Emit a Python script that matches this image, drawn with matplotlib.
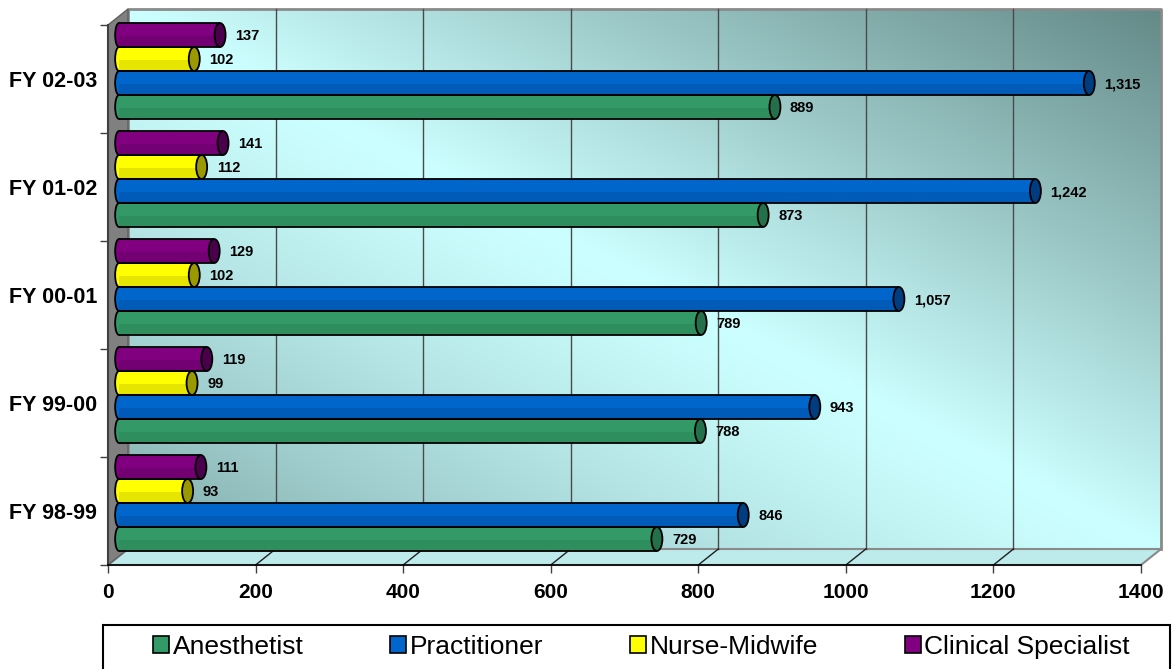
import numpy as np
import matplotlib
matplotlib.use("Agg")
import matplotlib.pyplot as plt
import matplotlib.transforms as mtransforms
from matplotlib.patches import Polygon, Ellipse, Patch, Rectangle

plt.rcParams['font.family'] = ['Liberation Sans', 'DejaVu Sans']

# data (bottom category first)
years = ['FY 98-99', 'FY 99-00', 'FY 00-01', 'FY 01-02', 'FY 02-03']
anesthetist = [729, 788, 789, 873, 889]
practitioner = [846, 943, 1057, 1242, 1315]
nurse_midwife = [93, 99, 102, 112, 102]
clinical_spec = [111, 119, 129, 141, 137]

series = [
    ('Anesthetist', anesthetist, '#339966', '#23704a'),
    ('Practitioner', practitioner, '#0066cc', '#003c80'),
    ('Nurse-Midwife', nurse_midwife, '#ffff00', '#9a9a00'),
    ('Clinical Specialist', clinical_spec, '#800080', '#4a004a'),
]

W, H, DPI = 1173, 669, 100
fig = plt.figure(figsize=(W / DPI, H / DPI), dpi=DPI)

# front plane of the 3d box, in pixels
x0, x1, ytop, ybot = 108, 1141, 25, 565
ax = fig.add_axes([x0 / W, 1 - ybot / H, (x1 - x0) / W, (ybot - ytop) / H])
xmax = 1400
px_x = (x1 - x0) / xmax      # px per value unit
px_y = (ybot - ytop) / 5     # px per category

# depth offsets (pixels) -> data units
bdx, bdy = 20 / px_x, 16 / px_y

# back wall gradient
nx, ny = 400, 300
u = np.linspace(0, 1, nx)[None, :]
v = np.linspace(0, 1, ny)[:, None]
t = u - v
light = np.array([0.80, 1.0, 1.0])
dark_tr = np.array([0.39, 0.54, 0.53])
dark_bl = np.array([0.50, 0.66, 0.66])
w_tr = np.clip(t, 0, 1)[..., None] ** 1.0
w_bl = np.clip(-t, 0, 1)[..., None] ** 1.3
img = light * (1 - w_tr - w_bl) + dark_tr * w_tr + dark_bl * w_bl
im = ax.imshow(img, extent=(bdx, xmax + bdx, -0.5 + bdy, 4.5 + bdy),
               aspect='auto', origin='upper', zorder=0, interpolation='bilinear')
im.set_clip_on(False)

# back wall border
ax.plot([bdx, bdx, xmax + bdx, xmax + bdx], [-0.5 + bdy, 4.5 + bdy, 4.5 + bdy, -0.5 + bdy],
        color='#8a8a8a', lw=2, zorder=1, clip_on=False)

# floor
floor = Polygon([(0, -0.5), (xmax, -0.5), (xmax + bdx, -0.5 + bdy), (bdx, -0.5 + bdy)],
                closed=True, facecolor='#bdeaea', edgecolor='#8a8a8a', lw=1.5,
                zorder=1, clip_on=False)
ax.add_patch(floor)

# left wall
wall = Polygon([(0, -0.5), (0, 4.5), (bdx, 4.5 + bdy), (bdx, -0.5 + bdy)],
               closed=True, facecolor='#808080', edgecolor='#606060', lw=1,
               zorder=1, clip_on=False)
ax.add_patch(wall)

# gridlines on back wall and floor
grid_vals = np.arange(200, xmax, 200)
for g in grid_vals:
    ax.plot([g + bdx, g + bdx], [-0.5 + bdy, 4.5 + bdy], color='#4a4a4a', lw=1,
            zorder=2, clip_on=False)
    ax.plot([g, g + bdx], [-0.5, -0.5 + bdy], color='#202020', lw=1,
            zorder=2, clip_on=False)

# bars on the middle plane
mid = ax.transData + mtransforms.ScaledTranslation(0.11, 0.08, fig.dpi_scale_trans)
h = 0.222
ypos = np.arange(len(years))
cap_w = 11 / px_x
for i, (name, vals, col, dcol) in enumerate(series):
    yc = ypos - (1.5 - i) * h
    for y, val in zip(yc, vals):
        # rounded left end
        ax.add_patch(Ellipse((0, y), cap_w * 0.7, h, facecolor=col, edgecolor='black',
                             lw=1.3, transform=mid, zorder=3, clip_on=False))
    ax.barh(yc, vals, height=h, color=col, edgecolor='none', transform=mid,
            zorder=4, clip_on=False)
    ax.barh(yc - h * 0.27, vals, height=h * 0.46, color=dcol, alpha=0.25,
            edgecolor='none', transform=mid, zorder=4, clip_on=False)
    ax.hlines(np.concatenate([yc - h / 2, yc + h / 2]), 0, np.concatenate([vals, vals]),
              colors='black', lw=1.3, transform=mid, zorder=5, clip_on=False)
    for y, val in zip(yc, vals):
        ax.add_patch(Ellipse((val, y), cap_w, h, facecolor=dcol, edgecolor='black',
                             lw=1.3, transform=mid, zorder=6, clip_on=False))
        ax.text(val + 15 / px_x, y - 0.01, f'{val:,}', transform=mid, ha='left',
                va='center', fontsize=10.5, fontweight='bold', zorder=7)

ax.set_xlim(0, xmax)
ax.set_ylim(-0.5, 4.5)
ax.patch.set_visible(False)
for s in ['top', 'right']:
    ax.spines[s].set_visible(False)
ax.spines['left'].set_color('#404040')
ax.spines['left'].set_linewidth(1.5)
ax.spines['bottom'].set_color('black')
ax.spines['bottom'].set_linewidth(1.2)
ax.spines['left'].set_zorder(2)

ax.set_xticks(np.arange(0, xmax + 1, 200))
ax.set_xticklabels([str(x) for x in range(0, xmax + 1, 200)], fontsize=15, fontweight='bold')
ax.tick_params(axis='x', direction='out', length=6, width=1, color='#404040', pad=7)

ax.set_yticks(np.arange(-0.5, 5, 1))
ax.set_yticklabels([])
ax.set_yticks(ypos, minor=True)
ax.set_yticklabels(years, minor=True, fontsize=15.5, fontweight='bold')
ax.tick_params(axis='y', which='major', direction='out', length=6, width=1, color='#404040')
ax.tick_params(axis='y', which='minor', length=0, pad=8)

# legend box, then entries spread inside it
fig.patches.append(Rectangle((103 / W, -0.02), (1170 - 103) / W, 0.02 + 1 - 625 / H,
                             transform=fig.transFigure, facecolor='white',
                             edgecolor='black', lw=1.5))
handles = [Patch(facecolor=c, edgecolor='black', lw=1.2) for _, _, c, _ in series]
leg = fig.legend(handles, [s[0] for s in series], loc='upper left',
                 bbox_to_anchor=(145 / W, 1 - 627 / H, (1138 - 145) / W, 0),
                 mode='expand', ncol=4, frameon=False,
                 fontsize=19, handlelength=0.6, handleheight=0.6,
                 handletextpad=0.15, borderaxespad=0, borderpad=0.3)

fig.savefig('out.png', dpi=DPI)
